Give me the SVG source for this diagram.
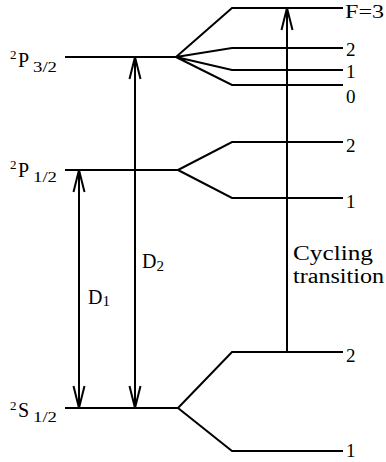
<svg xmlns="http://www.w3.org/2000/svg" width="386" height="462" viewBox="0 0 386 462" font-family="'Liberation Serif', 'DejaVu Serif', serif">
<style>
.lv{fill:none;stroke:#000;stroke-width:2;stroke-linejoin:miter}
.ar{fill:none;stroke:#000;stroke-width:2}
text{font-family:'Liberation Serif','DejaVu Serif',serif;fill:#000}
.big{font-size:20px}
.num{font-size:19px}
.sup{font-size:13px}
.sub{font-size:15px}
</style>
<defs>
<marker id="ah" markerUnits="userSpaceOnUse" orient="auto-start-reverse" refX="0" refY="0" markerWidth="30" markerHeight="16" viewBox="-24 -8 30 16" overflow="visible">
<path d="M-22,-5.5 L0,0 L-22,5.5" fill="none" stroke="#000" stroke-width="2"/>
</marker>
</defs>
<rect width="386" height="462" fill="#fff"/>
<g id="P32">
<path class="lv" d="M65,57 H176"/>
<path class="lv" d="M176,57 L232,8 H343 M176,57 L232,48 H343 M176,57 L232,70 H343 M176,57 L232,85 H343"/>
<text x="10" y="59" class="sup">2</text>
<text x="18" y="67" class="big">P</text>
<text x="33" y="72" class="sub" textLength="24" lengthAdjust="spacingAndGlyphs">3/2</text>
<text x="345" y="18" class="num" textLength="39" lengthAdjust="spacingAndGlyphs">F=3</text>
<text x="346" y="56" class="num">2</text>
<text x="346" y="78" class="num">1</text>
<text x="346" y="103" class="num">0</text>
</g>
<g id="P12">
<path class="lv" d="M65,170 H178"/>
<path class="lv" d="M178,170 L232,142 H343 M178,170 L232,198 H343"/>
<text x="10" y="169" class="sup">2</text>
<text x="18" y="177" class="big">P</text>
<text x="33" y="182" class="sub" textLength="24" lengthAdjust="spacingAndGlyphs">1/2</text>
<text x="346" y="152" class="num">2</text>
<text x="346" y="208" class="num">1</text>
</g>
<g id="S12">
<path class="lv" d="M65,408 H178"/>
<path class="lv" d="M178,408 L232,352 H343 M178,408 L232,451 H343"/>
<text x="10" y="410" class="sup">2</text>
<text x="18" y="417" class="big">S</text>
<text x="33" y="422" class="sub" textLength="24" lengthAdjust="spacingAndGlyphs">1/2</text>
<text x="346" y="362" class="num">2</text>
<text x="346" y="457" class="num">1</text>
</g>
<g id="connectors">
<line class="ar" x1="79" y1="408" x2="79" y2="170" marker-start="url(#ah)" marker-end="url(#ah)"/>
<line class="ar" x1="135" y1="408" x2="135" y2="57" marker-start="url(#ah)" marker-end="url(#ah)"/>
<line class="ar" x1="287" y1="352" x2="287" y2="8" marker-end="url(#ah)"/>
</g>
<g id="labels">
<text x="88" y="304" class="big">D<tspan class="sub" dy="2">1</tspan></text>
<text x="142" y="268" class="big">D<tspan class="sub" dy="3">2</tspan></text>
<text x="293" y="260" class="big" textLength="80" lengthAdjust="spacingAndGlyphs">Cycling</text>
<text x="293" y="283" class="big" textLength="91" lengthAdjust="spacingAndGlyphs">transition</text>
</g>
</svg>
